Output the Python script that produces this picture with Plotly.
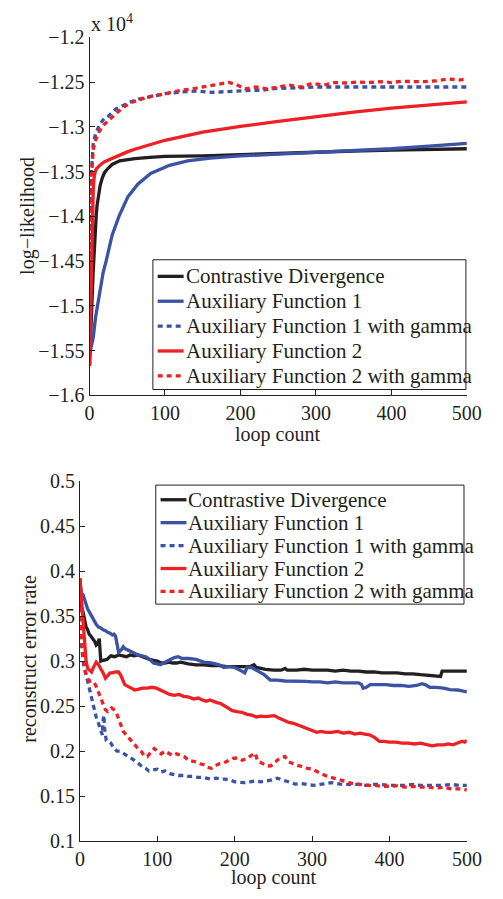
import plotly.graph_objects as go

# ---------------- top panel: log-likelihood (x 10^4) ----------------
names = ["Contrastive Divergence", "Auxiliary Function 1", "Auxiliary Function 1 with gamma",
         "Auxiliary Function 2", "Auxiliary Function 2 with gamma"]

ll_cd_x = [0, 1, 2, 3, 4, 5, 6, 7, 8, 9, 10, 12, 14, 17, 20, 25, 30, 40, 50, 60, 80, 100, 150, 200, 250, 300, 350, 400, 450, 500]
ll_cd_y = [-1.567, -1.55, -1.53, -1.505, -1.48, -1.46, -1.44, -1.425, -1.41, -1.398, -1.388, -1.375, -1.366, -1.357,
           -1.351, -1.346, -1.342, -1.338, -1.3365, -1.3355, -1.334, -1.333, -1.3325, -1.331, -1.3295, -1.328, -1.327,
           -1.326, -1.3255, -1.3245]

ll_af1_x = [0, 2, 5, 8, 13, 18, 22, 30, 39, 51, 64, 81, 106, 130, 160, 200, 250, 300, 350, 400, 450, 500]
ll_af1_y = [-1.555, -1.548, -1.535, -1.513, -1.486, -1.463, -1.45, -1.421, -1.40, -1.378, -1.364, -1.352, -1.343,
            -1.338, -1.335, -1.3325, -1.3305, -1.3285, -1.3265, -1.3245, -1.3215, -1.3185]

ll_af1g_x = [0, 1, 2, 3, 5, 8, 13, 20, 25, 30, 35, 40, 47, 55, 65, 81, 100, 123, 140, 162, 185, 206, 230, 248, 275,
             300, 350, 400, 450, 500]
ll_af1g_y = [-1.555, -1.45, -1.38, -1.345, -1.318, -1.308, -1.298, -1.29, -1.288, -1.284, -1.28, -1.278, -1.275,
             -1.272, -1.269, -1.266, -1.263, -1.261, -1.26, -1.2615, -1.26, -1.2595, -1.259, -1.257, -1.2565, -1.2555,
             -1.2555, -1.2555, -1.2555, -1.2555]

ll_af2_x = [0, 1, 2, 3, 4, 5, 6, 7, 9, 12, 15, 20, 30, 40, 50, 60, 80, 100, 150, 200, 250, 300, 350, 400, 450, 500]
ll_af2_y = [-1.567, -1.53, -1.48, -1.43, -1.39, -1.37, -1.358, -1.352, -1.347, -1.344, -1.342, -1.339, -1.335,
            -1.331, -1.328, -1.325, -1.32, -1.315, -1.306, -1.2995, -1.294, -1.2885, -1.2835, -1.279, -1.2755, -1.272]

ll_af2g_x = [0, 1, 2, 3, 5, 8, 13, 20, 25, 30, 38, 47, 55, 65, 81, 100, 123, 140, 162, 175, 185, 195, 206, 220, 235,
             250, 265, 280, 295, 310, 325, 340, 355, 370, 385, 400, 415, 430, 445, 460, 475, 490, 500]
ll_af2g_y = [-1.567, -1.46, -1.39, -1.35, -1.325, -1.315, -1.305, -1.297, -1.293, -1.289, -1.283, -1.277, -1.273,
             -1.27, -1.266, -1.263, -1.259, -1.257, -1.2535, -1.252, -1.2503, -1.253, -1.2575, -1.2555, -1.2575,
             -1.2555, -1.2535, -1.2555, -1.2515, -1.2535, -1.2505, -1.251, -1.250, -1.2505, -1.2495, -1.2505, -1.249,
             -1.2495, -1.2495, -1.2485, -1.2465, -1.2475, -1.247]

ll_ticks = [-1.6, -1.55, -1.5, -1.45, -1.4, -1.35, -1.3, -1.25, -1.2]
ll_ticktext = ["\u22121.6", "\u22121.55", "\u22121.5", "\u22121.45", "\u22121.4", "\u22121.35", "\u22121.3",
               "\u22121.25", "\u22121.2"]

# ---------------- bottom panel: reconstruct error rate ----------------
er_cd_x = [0, 1, 2, 4, 6, 8, 10, 12, 14, 17, 19, 21, 23, 25, 26, 27, 30, 35, 40, 45, 50, 55, 60, 65, 70, 75, 80, 85,
           90, 95, 100, 105, 110, 115, 120, 125, 130, 140, 150, 160, 170, 180, 190, 200, 210, 220, 225, 228, 240, 250,
           260, 265, 268, 280, 290, 300, 310, 320, 330, 340, 350, 360, 370, 380, 390, 400, 410, 420, 430, 440, 450,
           460, 466, 468, 480, 490, 500]
er_cd_y = [0.392, 0.37, 0.36, 0.355, 0.345, 0.338, 0.335, 0.33, 0.328, 0.325, 0.322, 0.318, 0.32, 0.325, 0.31, 0.3,
           0.301, 0.302, 0.306, 0.305, 0.307, 0.306, 0.305, 0.307, 0.306, 0.307, 0.305, 0.303, 0.302, 0.301, 0.3,
           0.298, 0.298, 0.299, 0.298, 0.298, 0.299, 0.297, 0.296, 0.296, 0.295, 0.295, 0.294, 0.294, 0.294, 0.294,
           0.296, 0.293, 0.291, 0.29, 0.29, 0.292, 0.29, 0.29, 0.291, 0.29, 0.29, 0.29, 0.289, 0.29, 0.289, 0.289,
           0.288, 0.288, 0.287, 0.287, 0.287, 0.286, 0.286, 0.285, 0.284, 0.283, 0.283, 0.289, 0.289, 0.289, 0.289]

er_af1_x = [0, 2, 4, 6, 8, 10, 12, 15, 18, 21, 24, 27, 30, 33, 36, 39, 42, 44, 46, 48, 50, 53, 56, 58, 62, 66, 70, 75,
            80, 85, 90, 95, 100, 104, 108, 112, 118, 122, 127, 132, 140, 150, 160, 170, 180, 186, 192, 200, 207, 213,
            216, 222, 230, 238, 246, 255, 265, 275, 285, 292, 300, 310, 320, 330, 340, 350, 360, 364, 366, 370, 375,
            385, 395, 405, 415, 425, 435, 442, 446, 452, 460, 470, 478, 488, 494, 500]
er_af1_y = [0.39, 0.375, 0.374, 0.368, 0.362, 0.358, 0.355, 0.35, 0.346, 0.341, 0.338, 0.337, 0.335, 0.334, 0.332,
            0.331, 0.329, 0.33, 0.328, 0.32, 0.31, 0.312, 0.316, 0.314, 0.312, 0.31, 0.309, 0.307, 0.306, 0.305,
            0.302, 0.298, 0.297, 0.296, 0.298, 0.3, 0.302, 0.304, 0.305, 0.303, 0.303, 0.302, 0.299, 0.298, 0.296,
            0.293, 0.294, 0.293, 0.29, 0.287, 0.293, 0.293, 0.289, 0.285, 0.279, 0.279, 0.278, 0.278, 0.278, 0.2775,
            0.277, 0.277, 0.276, 0.277, 0.276, 0.276, 0.276, 0.274, 0.27, 0.271, 0.274, 0.274, 0.274, 0.273, 0.273,
            0.272, 0.273, 0.275, 0.274, 0.271, 0.271, 0.27, 0.2685, 0.268, 0.267, 0.266]

er_af1g_x = [0, 1, 2, 3, 5, 8, 11, 13, 15, 18, 21, 24, 27, 29, 30, 31, 32, 34, 37, 40, 44, 48, 52, 56, 60, 65, 70,
             75, 80, 85, 89, 94, 100, 105, 110, 116, 122, 128, 134, 140, 146, 152, 158, 164, 170, 176, 182, 188, 194,
             200, 207, 213, 220, 227, 234, 241, 248, 255, 262, 270, 278, 286, 294, 302, 310, 318, 325, 332, 340, 350,
             360, 370, 380, 390, 400, 410, 420, 430, 440, 450, 460, 470, 480, 490, 500]
er_af1g_y = [0.38, 0.33, 0.32, 0.31, 0.295, 0.285, 0.274, 0.265, 0.256, 0.245, 0.238, 0.231, 0.222, 0.218, 0.235,
             0.24, 0.225, 0.212, 0.211, 0.209, 0.203, 0.2, 0.2, 0.198, 0.196, 0.193, 0.19, 0.187, 0.183, 0.181, 0.178,
             0.179, 0.18, 0.177, 0.178, 0.175, 0.174, 0.173, 0.173, 0.172, 0.172, 0.171, 0.171, 0.17, 0.169, 0.17,
             0.169, 0.169, 0.168, 0.166, 0.165, 0.165, 0.166, 0.167, 0.166, 0.167, 0.168, 0.17, 0.168, 0.166, 0.1635,
             0.164, 0.163, 0.162, 0.163, 0.164, 0.165, 0.164, 0.163, 0.163, 0.163, 0.162, 0.163, 0.163, 0.162, 0.162,
             0.162, 0.163, 0.162, 0.162, 0.162, 0.162, 0.163, 0.162, 0.162]

er_af2_x = [0, 2, 4, 6, 8, 10, 13, 15, 18, 21, 24, 27, 30, 33, 36, 39, 42, 46, 50, 53, 56, 58, 62, 66, 71, 76, 81, 87,
            93, 99, 104, 110, 116, 122, 128, 134, 141, 147, 153, 158, 163, 168, 173, 177, 182, 188, 192, 197, 203,
            210, 216, 222, 228, 234, 240, 246, 251, 257, 263, 270, 276, 282, 288, 294, 300, 306, 312, 318, 325, 333,
            340, 348, 355, 362, 368, 375, 381, 387, 393, 400, 408, 416, 424, 432, 440, 448, 455, 462, 470, 476, 482,
            488, 494, 497, 500]
er_af2_y = [0.392, 0.37, 0.34, 0.315, 0.3, 0.292, 0.29, 0.288, 0.294, 0.299, 0.296, 0.292, 0.287, 0.281, 0.284,
            0.287, 0.287, 0.288, 0.288, 0.284, 0.278, 0.274, 0.272, 0.27, 0.268, 0.269, 0.27, 0.27, 0.271, 0.27, 0.268,
            0.265, 0.263, 0.262, 0.263, 0.261, 0.26, 0.258, 0.259, 0.257, 0.2555, 0.257, 0.255, 0.254, 0.253, 0.25,
            0.247, 0.245, 0.244, 0.243, 0.241, 0.24, 0.238, 0.239, 0.2385, 0.239, 0.2395, 0.237, 0.235, 0.232, 0.231,
            0.229, 0.227, 0.225, 0.223, 0.221, 0.222, 0.221, 0.221, 0.222, 0.22, 0.221, 0.219, 0.22, 0.219, 0.218,
            0.215, 0.211, 0.211, 0.21, 0.21, 0.209, 0.209, 0.208, 0.209, 0.207, 0.206, 0.207, 0.207, 0.208, 0.207,
            0.209, 0.211, 0.21, 0.212]

er_af2g_x = [0, 1, 2, 3, 5, 7, 10, 12, 15, 18, 21, 24, 27, 30, 33, 36, 39, 41, 44, 47, 50, 53, 56, 59, 63, 67, 71,
             75, 79, 83, 87, 91, 96, 100, 105, 110, 115, 120, 125, 130, 135, 140, 145, 150, 155, 160, 165, 170, 175,
             180, 186, 192, 198, 204, 210, 216, 222, 226, 230, 236, 241, 246, 251, 255, 260, 265, 270, 276, 282, 288,
             294, 300, 306, 312, 317, 323, 328, 333, 340, 347, 354, 362, 371, 380, 390, 400, 410, 420, 430, 440, 450,
             460, 470, 480, 490, 500]
er_af2g_y = [0.39, 0.35, 0.33, 0.315, 0.30, 0.288, 0.281, 0.278, 0.278, 0.277, 0.272, 0.265, 0.258, 0.251, 0.246,
             0.244, 0.247, 0.248, 0.246, 0.243, 0.236, 0.228, 0.222, 0.219, 0.215, 0.21, 0.206, 0.203, 0.2, 0.195,
             0.194, 0.198, 0.203, 0.2, 0.197, 0.2, 0.198, 0.195, 0.197, 0.195, 0.194, 0.19, 0.189, 0.188, 0.186, 0.185,
             0.182, 0.181, 0.184, 0.186, 0.187, 0.19, 0.192, 0.1925, 0.19, 0.192, 0.196, 0.198, 0.189, 0.186, 0.184,
             0.1835, 0.186, 0.19, 0.193, 0.194, 0.188, 0.186, 0.184, 0.183, 0.181, 0.18, 0.177, 0.175, 0.173, 0.171,
             0.17, 0.169, 0.167, 0.165, 0.1635, 0.163, 0.162, 0.162, 0.161, 0.161, 0.1615, 0.16, 0.161, 0.16, 0.16,
             0.159, 0.16, 0.158, 0.158, 0.157]

er_ticks = [0.1, 0.15, 0.2, 0.25, 0.3, 0.35, 0.4, 0.45, 0.5]
er_ticktext = ["0.1", "0.15", "0.2", "0.25", "0.3", "0.35", "0.4", "0.45", "0.5"]
x_ticks = [0, 100, 200, 300, 400, 500]

BLACK = "#231f20"
BLUE = "#3a53a4"
RED = "#ed2024"
FONT = "Liberation Serif"
W, H = 503, 899
DOT = "5px,4px"

styles = [(BLACK, "solid"), (BLUE, "solid"), (BLUE, DOT), (RED, "solid"), (RED, DOT)]
top_series = [(ll_cd_x, ll_cd_y), (ll_af1_x, ll_af1_y), (ll_af1g_x, ll_af1g_y), (ll_af2_x, ll_af2_y),
              (ll_af2g_x, ll_af2g_y)]
bot_series = [(er_cd_x, er_cd_y), (er_af1_x, er_af1_y), (er_af1g_x, er_af1g_y), (er_af2_x, er_af2_y),
              (er_af2g_x, er_af2g_y)]

LW = 3.3
fig = go.Figure()
for (x, y), name, (c, d) in zip(top_series, names, styles):
    fig.add_trace(go.Scatter(x=x, y=y, mode="lines", name=name, xaxis="x", yaxis="y", showlegend=False,
                             line=dict(color=c, width=LW, dash=d)))
for (x, y), name, (c, d) in zip(bot_series, names, styles):
    fig.add_trace(go.Scatter(x=x, y=y, mode="lines", name=name, xaxis="x2", yaxis="y2", showlegend=False,
                             line=dict(color=c, width=LW, dash=d)))


def px_x(p):
    return p / W


def px_y(p):
    return 1 - p / H


axis_common = dict(showline=True, linecolor=BLACK, linewidth=1, ticks="inside", ticklen=5, tickcolor=BLACK,
                   showgrid=False, zeroline=False, mirror=False,
                   tickfont=dict(family=FONT, size=20, color=BLACK))

fig.update_layout(
    width=W, height=H, autosize=False, margin=dict(l=0, r=0, t=0, b=0),
    paper_bgcolor="white", plot_bgcolor="white", showlegend=False,
    xaxis=dict(domain=[px_x(88), px_x(481)], range=[0, 500], tickvals=x_ticks, anchor="y", **axis_common),
    yaxis=dict(domain=[px_y(394), px_y(27)], range=[-1.6, -1.2], tickvals=ll_ticks, ticktext=ll_ticktext,
               anchor="x", **axis_common),
    xaxis2=dict(domain=[px_x(78), px_x(481)], range=[0, 500], tickvals=x_ticks, anchor="y2", **axis_common),
    yaxis2=dict(domain=[px_y(851), px_y(482)], range=[0.1, 0.5], tickvals=er_ticks, ticktext=er_ticktext,
                anchor="x2", **axis_common),
)


# hand-built legends (box, line samples, labels) in paper coordinates
def add_legend(box, rows, x_line, x_text):
    x0, y0, x1, y1 = box
    fig.add_shape(type="rect", xref="paper", yref="paper", x0=px_x(x0), x1=px_x(x1), y0=px_y(y1), y1=px_y(y0),
                  line=dict(color=BLACK, width=1), fillcolor="white", layer="above")
    for name, (c, d), ry in zip(names, styles, rows):
        fig.add_shape(type="line", xref="paper", yref="paper", x0=px_x(x_line[0]), x1=px_x(x_line[1]),
                      y0=px_y(ry), y1=px_y(ry), line=dict(color=c, width=LW, dash=d), layer="above")
        fig.add_annotation(text=name, xref="paper", yref="paper", x=px_x(x_text), y=px_y(ry),
                           xanchor="left", yanchor="middle", showarrow=False, borderpad=0,
                           font=dict(family=FONT, size=21, color=BLACK))


add_legend((154, 255, 480, 388), [272, 297.5, 323, 348.5, 374], (159, 186), 187)
add_legend((157, 486, 478, 608), [501, 524.5, 548, 571.5, 595], (162, 189), 190)

txt = dict(family=FONT, size=20, color=BLACK)
fig.add_annotation(text="x 10<sup>4</sup>", xref="paper", yref="paper", x=px_x(88), y=px_y(26),
                   xanchor="left", yanchor="bottom", showarrow=False, borderpad=0, font=txt)
fig.add_annotation(text="log\u2212likelihood", xref="paper", yref="paper", x=px_x(24), y=px_y(210),
                   xanchor="center", yanchor="middle", textangle=-90, showarrow=False, font=txt)
fig.add_annotation(text="loop count", xref="paper", yref="paper", x=px_x(284), y=px_y(434),
                   xanchor="center", yanchor="middle", showarrow=False, borderpad=0, font=txt)
fig.add_annotation(text="reconstruct error rate", xref="paper", yref="paper", x=px_x(25), y=px_y(664),
                   xanchor="center", yanchor="middle", textangle=-90, showarrow=False, font=txt)
fig.add_annotation(text="loop count", xref="paper", yref="paper", x=px_x(280), y=px_y(888),
                   xanchor="center", yanchor="middle", showarrow=False, borderpad=0, font=txt)

fig.write_html("out.html", config={"displayModeBar": False},
               post_script="document.body.style.margin='0px';")
